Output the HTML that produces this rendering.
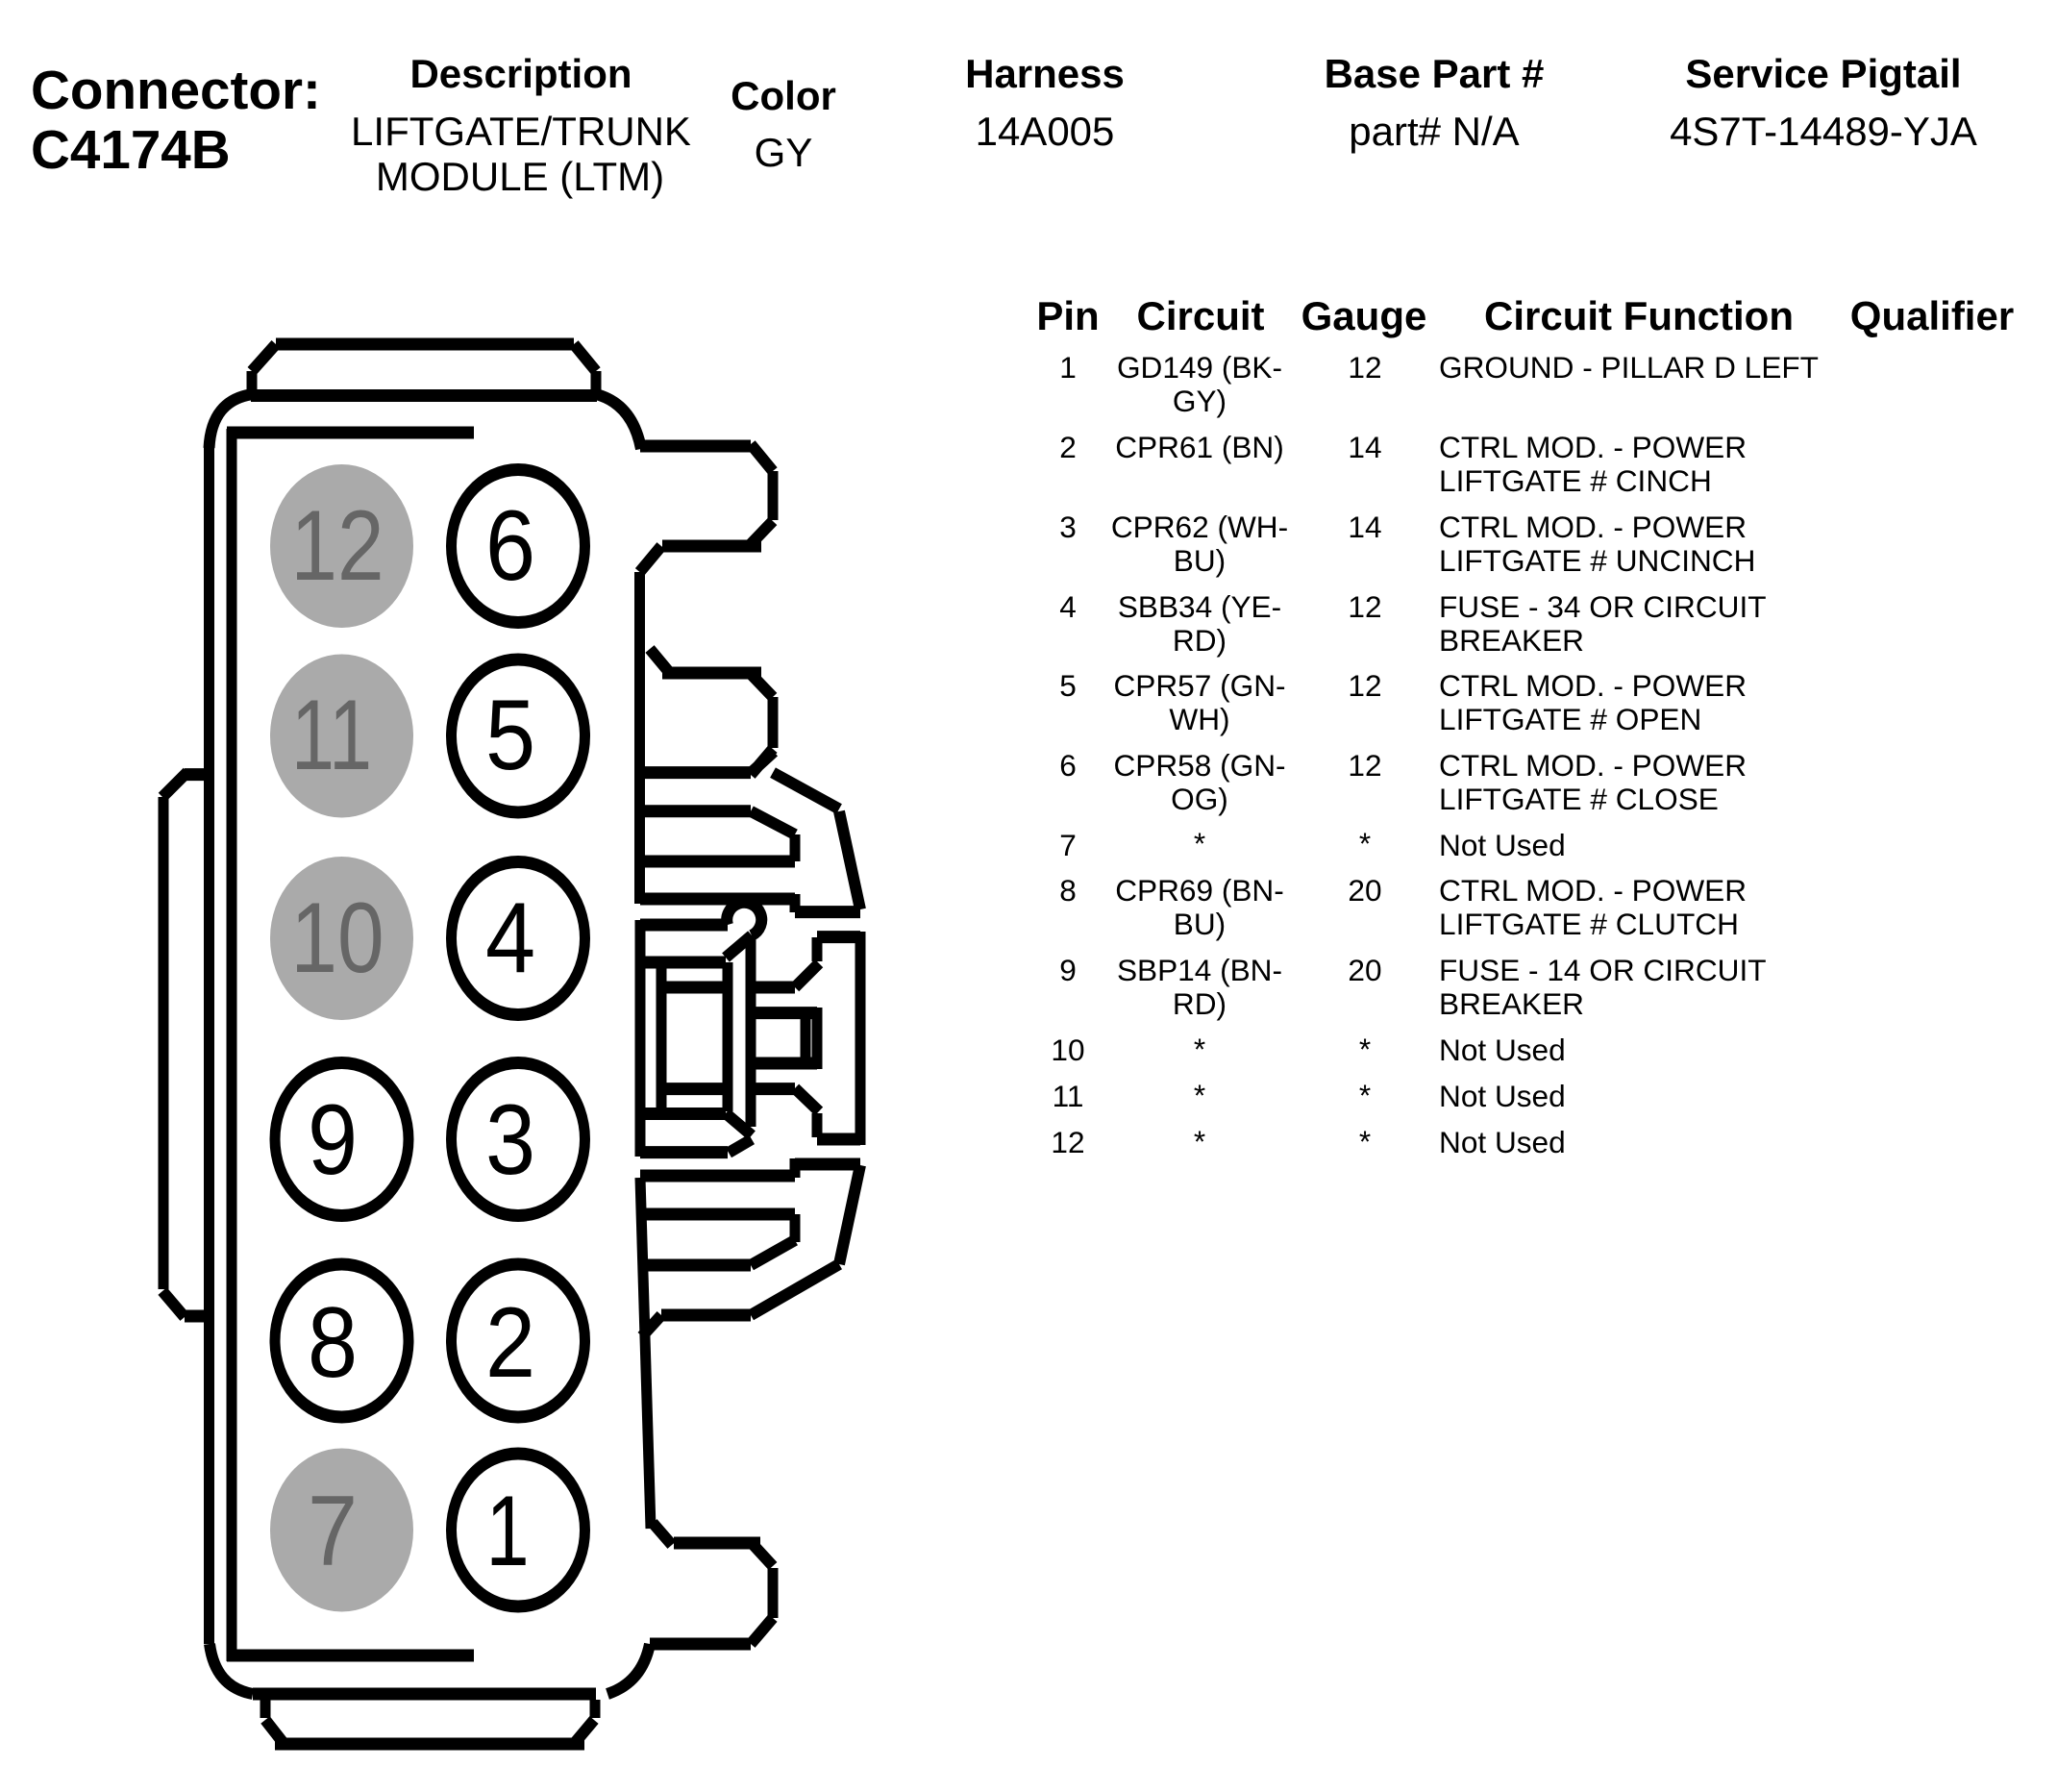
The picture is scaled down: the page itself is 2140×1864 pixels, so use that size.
<!DOCTYPE html>
<html>
<head>
<meta charset="utf-8">
<style>
html,body{margin:0;padding:0;background:#fff;width:2140px;height:1864px;overflow:hidden}
svg{display:block}
text{font-family:"Liberation Sans",Arial,sans-serif;fill:#000}
.b{font-weight:bold;font-size:42px;text-anchor:middle}
.r{font-size:42px;text-anchor:middle}
.c{font-size:31.6px;text-anchor:middle}
.l{font-size:31.6px}
.h{fill:none;stroke:#000;stroke-width:13}
.v{fill:none;stroke:#000;stroke-width:11}
.d{fill:none;stroke:#000;stroke-width:12}
.n{font-size:104px;text-anchor:middle}
.g{fill:#666}
</style>
</head>
<body>
<svg width="2140" height="1864" viewBox="0 0 2140 1864" xmlns="http://www.w3.org/2000/svg">
<rect width="2140" height="1864" fill="#fff"/>

<!-- header -->
<text x="32" y="113" font-size="56.6" font-weight="bold">Connector:</text>
<text x="32" y="175" font-size="56.6" font-weight="bold">C4174B</text>
<text class="b" x="542" y="91">Description</text>
<text class="r" x="542" y="151">LIFTGATE/TRUNK</text>
<text class="r" x="541" y="198">MODULE (LTM)</text>
<text class="b" x="815" y="114">Color</text>
<text class="r" x="815" y="173">GY</text>
<text class="b" x="1087" y="91">Harness</text>
<text class="r" x="1087" y="151">14A005</text>
<text class="b" x="1492" y="91">Base Part #</text>
<text class="r" x="1492" y="151">part# N/A</text>
<text class="b" x="1897" y="91">Service Pigtail</text>
<text class="r" x="1897" y="151">4S7T-14489-YJA</text>

<!-- table headers -->
<text class="b" x="1111" y="343">Pin</text>
<text class="b" x="1249" y="343">Circuit</text>
<text class="b" x="1419" y="343">Gauge</text>
<text class="b" x="1705" y="343">Circuit Function</text>
<text class="b" x="2010" y="343">Qualifier</text>

<!-- rows -->
<text class="c" x="1111" y="393">1</text><text class="c" x="1248" y="393">GD149 (BK-</text><text class="c" x="1248" y="428">GY)</text><text class="c" x="1420" y="393">12</text><text class="l" x="1497" y="393">GROUND - PILLAR D LEFT</text>
<text class="c" x="1111" y="476">2</text><text class="c" x="1248" y="476">CPR61 (BN)</text><text class="c" x="1420" y="476">14</text><text class="l" x="1497" y="476">CTRL MOD. - POWER</text><text class="l" x="1497" y="511">LIFTGATE # CINCH</text>
<text class="c" x="1111" y="559">3</text><text class="c" x="1248" y="559">CPR62 (WH-</text><text class="c" x="1248" y="594">BU)</text><text class="c" x="1420" y="559">14</text><text class="l" x="1497" y="559">CTRL MOD. - POWER</text><text class="l" x="1497" y="594">LIFTGATE # UNCINCH</text>
<text class="c" x="1111" y="642">4</text><text class="c" x="1248" y="642">SBB34 (YE-</text><text class="c" x="1248" y="677">RD)</text><text class="c" x="1420" y="642">12</text><text class="l" x="1497" y="642">FUSE - 34 OR CIRCUIT</text><text class="l" x="1497" y="677">BREAKER</text>
<text class="c" x="1111" y="724">5</text><text class="c" x="1248" y="724">CPR57 (GN-</text><text class="c" x="1248" y="759">WH)</text><text class="c" x="1420" y="724">12</text><text class="l" x="1497" y="724">CTRL MOD. - POWER</text><text class="l" x="1497" y="759">LIFTGATE # OPEN</text>
<text class="c" x="1111" y="807">6</text><text class="c" x="1248" y="807">CPR58 (GN-</text><text class="c" x="1248" y="842">OG)</text><text class="c" x="1420" y="807">12</text><text class="l" x="1497" y="807">CTRL MOD. - POWER</text><text class="l" x="1497" y="842">LIFTGATE # CLOSE</text>
<text class="c" x="1111" y="890">7</text><text class="c" x="1248" y="888">*</text><text class="c" x="1420" y="888">*</text><text class="l" x="1497" y="890">Not Used</text>
<text class="c" x="1111" y="937">8</text><text class="c" x="1248" y="937">CPR69 (BN-</text><text class="c" x="1248" y="972">BU)</text><text class="c" x="1420" y="937">20</text><text class="l" x="1497" y="937">CTRL MOD. - POWER</text><text class="l" x="1497" y="972">LIFTGATE # CLUTCH</text>
<text class="c" x="1111" y="1020">9</text><text class="c" x="1248" y="1020">SBP14 (BN-</text><text class="c" x="1248" y="1055">RD)</text><text class="c" x="1420" y="1020">20</text><text class="l" x="1497" y="1020">FUSE - 14 OR CIRCUIT</text><text class="l" x="1497" y="1055">BREAKER</text>
<text class="c" x="1111" y="1103">10</text><text class="c" x="1248" y="1102">*</text><text class="c" x="1420" y="1102">*</text><text class="l" x="1497" y="1103">Not Used</text>
<text class="c" x="1111" y="1151">11</text><text class="c" x="1248" y="1150">*</text><text class="c" x="1420" y="1150">*</text><text class="l" x="1497" y="1151">Not Used</text>
<text class="c" x="1111" y="1199">12</text><text class="c" x="1248" y="1198">*</text><text class="c" x="1420" y="1198">*</text><text class="l" x="1497" y="1199">Not Used</text>

<!-- connector body: horizontals -->
<path class="h" d="M287 358H597 M261 411.5H621 M236 450H493 M666 464H781 M689 568H792 M689 700H792
M666 803.6H781 M671 843.8H781 M671 896H827 M666 935H827 M827 948.6H895
M666 962H757 M671 1001H755 M693 1027H755 M693 1132.6H753 M671 1158.5H755 M666 1198.6H757
M785 1027H827 M850 974.6H895 M850 1185H895 M785 1132.6H827 M785 1053.6H850 M785 1106H850
M666 1223H827 M827 1211H895 M671 1263H827 M673 1316H781 M688 1368H781
M192 805.6H215 M192 1369H215
M263 1762H620 M236 1722H493 M286 1814H608
M676 1710H781 M701 1605H791"/>

<!-- verticals -->
<path class="v" d="M262 386V411 M620 386V411 M217.5 464V1710 M241 446V1728
M804 490V541 M804 725V778 M665.5 595V940
M827 868V896 M666 957V1203 M688 1007V1154 M757 1001V1156 M781 973V1172
M850 975V1000 M895 969V1191 M850 1158V1183 M838 1048V1112 M850 1048V1112 M827 1263V1292
M170 829V1341 M276 1768V1787 M619 1768V1787 M804 1631V1683
M827 930V949 M827 1205V1225"/>

<!-- diagonals and arcs -->
<path class="d" d="M263 410Q220 416 217.5 466 M620 410Q658 420 667 467
M287 358L262 386 M597 358L620 386
M781 462L804 490 M804 542L781 566 M688 568L665.5 595
M676 675L696 699 M781 701L804 725 M804 779L781 806
M781 804L805 782 M804 803.6L873 841.5 M873 844L895 946 M781 843.8L827 868
M755 996L782 973 M755 1158L782 1181 M758 1199L782 1185
M827 1027L852 1002 M827 1132L852 1156
M895 1212L873 1315 M873 1315L781 1368 M688 1368L668 1390 M827 1290L781 1316
M195 803L169 829 M169 1343L192 1370
M218 1710Q224 1755 263 1762 M632 1762Q668 1750 676 1710
M276 1789L294 1812 M597 1814L618 1789
M781 1710L804 1683 M804 1629L781 1604 M699 1607L679 1584"/>
<path class="v" d="M666 1225L677 1590"/>
<path class="d" d="M757 962A18 18 0 1 1 782 973" stroke-width="10"/>

<!-- pins: gray -->
<ellipse cx="355.5" cy="568" rx="74.5" ry="85" fill="#aaa"/>
<ellipse cx="355.5" cy="765.5" rx="74.5" ry="85" fill="#aaa"/>
<ellipse cx="355.5" cy="976" rx="74.5" ry="85" fill="#aaa"/>
<ellipse cx="355.5" cy="1591.5" rx="74.5" ry="85" fill="#aaa"/>
<!-- pins: outlined -->
<g fill="#000">
<ellipse cx="539" cy="568" rx="75" ry="86"/>
<ellipse cx="539" cy="765.5" rx="75" ry="86"/>
<ellipse cx="539" cy="976" rx="75" ry="86"/>
<ellipse cx="539" cy="1185" rx="75" ry="86"/>
<ellipse cx="539" cy="1394.5" rx="75" ry="86"/>
<ellipse cx="539" cy="1591.5" rx="75" ry="86"/>
<ellipse cx="355.5" cy="1185" rx="75" ry="86"/>
<ellipse cx="355.5" cy="1394.5" rx="75" ry="86"/>
</g>
<g fill="#fff">
<ellipse cx="539" cy="568" rx="64" ry="73"/>
<ellipse cx="539" cy="765.5" rx="64" ry="73"/>
<ellipse cx="539" cy="976" rx="64" ry="73"/>
<ellipse cx="539" cy="1185" rx="64" ry="73"/>
<ellipse cx="539" cy="1394.5" rx="64" ry="73"/>
<ellipse cx="539" cy="1591.5" rx="64" ry="73"/>
<ellipse cx="355.5" cy="1185" rx="64" ry="73"/>
<ellipse cx="355.5" cy="1394.5" rx="64" ry="73"/>
</g>

<!-- pin numbers -->
<text class="n g" transform="translate(351,603) scale(.84,1)">12</text>
<text class="n g" transform="translate(345,800) scale(.78,1)">11</text>
<text class="n g" transform="translate(351,1011) scale(.84,1)">10</text>
<text class="n g" transform="translate(346,1628) scale(.9,1)">7</text>
<text class="n" transform="translate(531,603) scale(.9,1)">6</text>
<text class="n" transform="translate(531,800) scale(.9,1)">5</text>
<text class="n" transform="translate(531,1011) scale(.9,1)">4</text>
<text class="n" transform="translate(531,1221) scale(.9,1)">3</text>
<text class="n" transform="translate(531,1432) scale(.9,1)">2</text>
<text class="n" transform="translate(528,1628) scale(.78,1)">1</text>
<text class="n" transform="translate(346,1221) scale(.9,1)">9</text>
<text class="n" transform="translate(346,1432) scale(.9,1)">8</text>
</svg>
</body>
</html>
